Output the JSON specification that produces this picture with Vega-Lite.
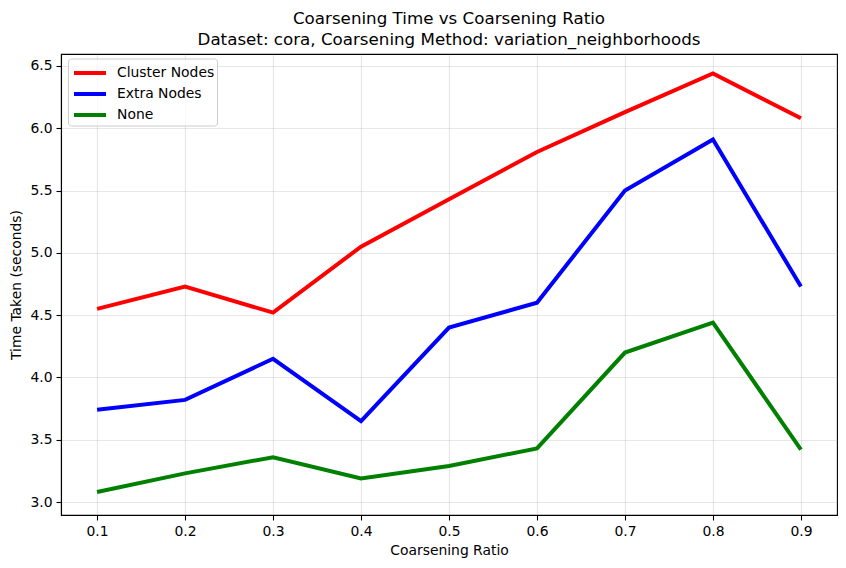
{
  "$schema": "https://vega.github.io/schema/vega-lite/v6.json",
  "width": 776,
  "height": 461,
  "autosize": {"type": "none"},
  "padding": {"left": 61, "top": 54, "right": 9, "bottom": 53},
  "background": "white",
  "title": {
    "text": ["Coarsening Time vs Coarsening Ratio", "Dataset: cora, Coarsening Method: variation_neighborhoods"],
    "anchor": "middle",
    "font": "DejaVu Sans",
    "fontSize": 16.7,
    "fontWeight": "normal",
    "color": "black",
    "lineHeight": 21,
    "offset": 5
  },
  "config": {
    "view": {"stroke": "black", "strokeWidth": 1.1},
    "font": "DejaVu Sans",
    "axis": {
      "labelFont": "DejaVu Sans",
      "titleFont": "DejaVu Sans",
      "labelFontSize": 13.9,
      "titleFontSize": 13.9,
      "titleFontWeight": "normal",
      "labelColor": "black",
      "titleColor": "black",
      "domainColor": "black",
      "domainWidth": 1.1,
      "tickColor": "black",
      "tickWidth": 1.1,
      "tickSize": 5,
      "labelPadding": 4,
      "gridColor": "#b0b0b0",
      "gridOpacity": 0.3,
      "gridWidth": 1.1
    },
    "legend": {
      "labelFont": "DejaVu Sans",
      "labelFontSize": 13.9,
      "labelColor": "black"
    }
  },
  "data": {
    "values": [
      {"ratio": 0.1, "time": 4.55, "method": "Cluster Nodes"},
      {"ratio": 0.2, "time": 4.73, "method": "Cluster Nodes"},
      {"ratio": 0.3, "time": 4.52, "method": "Cluster Nodes"},
      {"ratio": 0.4, "time": 5.05, "method": "Cluster Nodes"},
      {"ratio": 0.5, "time": 5.43, "method": "Cluster Nodes"},
      {"ratio": 0.6, "time": 5.81, "method": "Cluster Nodes"},
      {"ratio": 0.7, "time": 6.13, "method": "Cluster Nodes"},
      {"ratio": 0.8, "time": 6.44, "method": "Cluster Nodes"},
      {"ratio": 0.9, "time": 6.08, "method": "Cluster Nodes"},
      {"ratio": 0.1, "time": 3.74, "method": "Extra Nodes"},
      {"ratio": 0.2, "time": 3.82, "method": "Extra Nodes"},
      {"ratio": 0.3, "time": 4.15, "method": "Extra Nodes"},
      {"ratio": 0.4, "time": 3.65, "method": "Extra Nodes"},
      {"ratio": 0.5, "time": 4.40, "method": "Extra Nodes"},
      {"ratio": 0.6, "time": 4.60, "method": "Extra Nodes"},
      {"ratio": 0.7, "time": 5.50, "method": "Extra Nodes"},
      {"ratio": 0.8, "time": 5.91, "method": "Extra Nodes"},
      {"ratio": 0.9, "time": 4.73, "method": "Extra Nodes"},
      {"ratio": 0.1, "time": 3.08, "method": "None"},
      {"ratio": 0.2, "time": 3.23, "method": "None"},
      {"ratio": 0.3, "time": 3.36, "method": "None"},
      {"ratio": 0.4, "time": 3.19, "method": "None"},
      {"ratio": 0.5, "time": 3.29, "method": "None"},
      {"ratio": 0.6, "time": 3.43, "method": "None"},
      {"ratio": 0.7, "time": 4.20, "method": "None"},
      {"ratio": 0.8, "time": 4.44, "method": "None"},
      {"ratio": 0.9, "time": 3.42, "method": "None"}
    ]
  },
  "mark": {"type": "line", "strokeWidth": 4, "strokeCap": "butt", "strokeJoin": "miter"},
  "encoding": {
    "x": {
      "field": "ratio",
      "type": "quantitative",
      "scale": {"domain": [0.059, 0.941], "nice": false, "zero": false},
      "axis": {
        "title": "Coarsening Ratio",
        "values": [0.1, 0.2, 0.3, 0.4, 0.5, 0.6, 0.7, 0.8, 0.9],
        "format": ".1f",
        "titlePadding": 6
      }
    },
    "y": {
      "field": "time",
      "type": "quantitative",
      "scale": {"domain": [2.896, 6.596], "nice": false, "zero": false},
      "axis": {
        "title": "Time Taken (seconds)",
        "values": [3.0, 3.5, 4.0, 4.5, 5.0, 5.5, 6.0, 6.5],
        "format": ".1f",
        "titlePadding": 6
      }
    },
    "color": {
      "field": "method",
      "type": "nominal",
      "scale": {"domain": ["Cluster Nodes", "Extra Nodes", "None"], "range": ["#ff0000", "#0000ff", "#008000"]},
      "legend": {
        "title": null,
        "orient": "none",
        "legendX": 7,
        "legendY": 4.5,
        "padding": 2,
        "fillColor": "rgba(255,255,255,0.8)",
        "strokeColor": "#cccccc",
        "cornerRadius": 3,
        "symbolType": "M-0.81,0H2.24",
        "symbolSize": 441,
        "symbolStrokeWidth": 4,
        "symbolFillColor": "transparent",
        "labelOffset": 22,
        "rowPadding": 0
      }
    }
  }
}
